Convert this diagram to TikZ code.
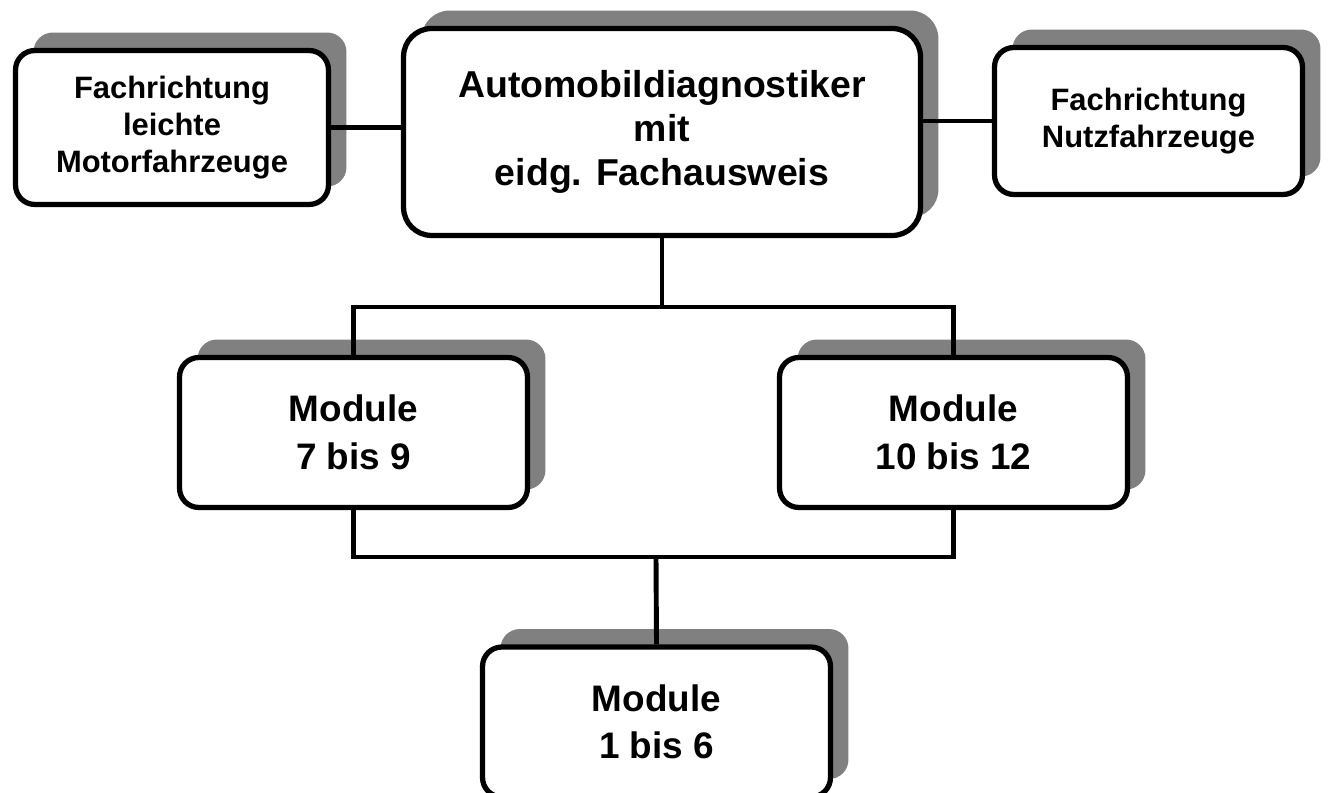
\documentclass[tikz,border=0pt]{standalone}
\usepackage{fontspec}
\setmainfont{Liberation Sans}
\usetikzlibrary{shadows}

\begin{document}
\begin{tikzpicture}[
  x=0.02cm, y=-0.02cm,
  every node/.style={font=\bfseries},
  kasten/.style={rectangle, rounded corners=11pt, draw, line width=3pt, fill=white, align=center,
    drop shadow={shadow xshift=0.36cm, shadow yshift=0.36cm, fill=black!50, opacity=1}},
  fach/.style={kasten, font=\bfseries\fontsize{17.6}{21}\selectfont},
  modul/.style={kasten, minimum width=6.96cm, minimum height=3.0cm, font=\bfseries\fontsize{21}{27}\selectfont},
  verb/.style={line width=2.8pt},
]
  \useasboundingbox (0,0) rectangle (1333,793);

  \node[kasten,rounded corners=16pt,minimum width=10.34cm,minimum height=4.14cm,font=\bfseries\fontsize{21.3}{25}\selectfont] (A) at (662,132) {Automobildiagnostiker\\mit\\eidg. Fachausweis};
  \node[fach,minimum width=6.26cm,minimum height=3.08cm] (L) at (172,127.5) {Fachrichtung\\leichte\\Motorfahrzeuge};
  \node[fach,minimum width=6.16cm,minimum height=2.94cm] (R) at (1148.5,121) {Fachrichtung\\Nutzfahrzeuge};

  \node[modul] (M79) at (353.5,432.5) {Module\\7 bis 9};
  \node[modul] (M1012) at (953.5,432.5) {Module\\10 bis 12};
  \node[modul] (M16) at (656.5,722) {Module\\1 bis 6};

  \coordinate (j1) at (662,307);
  \coordinate (j2) at (656,557);

  \draw[verb] (L.east) -- (L.east -| A.west);
  \draw[verb] (R.west) -- (R.west -| A.east);
  \draw[verb] (A.south) -- (j1);
  \draw[verb] (M79.north) |- (j1) -| (M1012.north);
  \draw[verb] (M79.south) |- (j2) -| (M1012.south);
  \draw[verb] (j2) -- (M16.north);
\end{tikzpicture}
\end{document}
